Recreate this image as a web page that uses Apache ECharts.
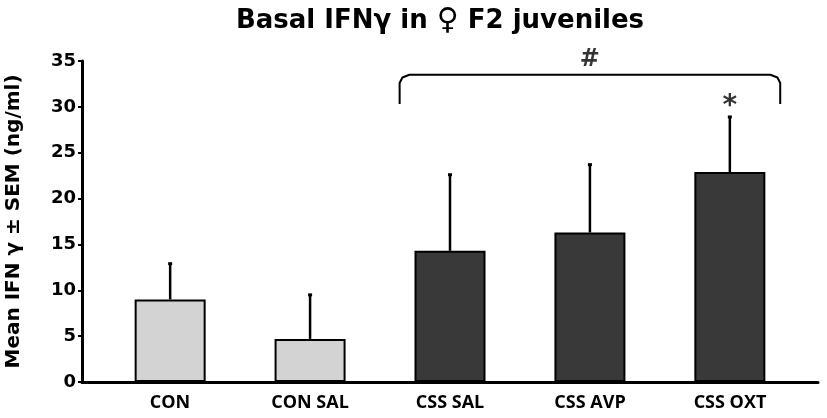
<!DOCTYPE html>
<html>
<head>
<meta charset="utf-8">
<script src="https://cdn.jsdelivr.net/npm/echarts@6/dist/echarts.min.js"></script>
<style>
  html, body { margin: 0; padding: 0; background: #fff; }
  #main { width: 827px; height: 418px; }
</style>
</head>
<body>
<div id="main"></div>
<script>
// data
var categories = ['CON', 'CON SAL', 'CSS SAL', 'CSS AVP', 'CSS OXT'];
var groups = ['CON', 'CON', 'CSS', 'CSS', 'CSS'];
var means = [9.0, 4.7, 14.3, 16.3, 22.9];
var sems = [3.9, 4.8, 8.3, 7.4, 6.0];
var yTicks = [0, 5, 10, 15, 20, 25, 30, 35];

// significance marks: bracket over the CSS groups (#), star over CSS OXT
var bracketFrom = 1.64, bracketTo = 4.36;
var bracketTop = 33.5, bracketFoot = 30.3;
var hashIndex = 3;
var starIndex = 4;

var groupColor = { CON: '#d3d3d3', CSS: '#393939' };

var chart = echarts.init(document.getElementById('main'));

var barData = means.map(function (m, i) {
  return { value: [i, m], itemStyle: { color: groupColor[groups[i]] } };
});
var errData = means.map(function (m, i) { return [i, m, sems[i]]; });

// bracket path with small rounded-ish corners
var bracketData = [
  [bracketFrom, bracketFoot],
  [bracketFrom, bracketTop - 0.9],
  [bracketFrom + 0.02, bracketTop - 0.3],
  [bracketFrom + 0.07, bracketTop],
  [bracketTo - 0.07, bracketTop],
  [bracketTo - 0.02, bracketTop - 0.3],
  [bracketTo, bracketTop - 0.9],
  [bracketTo, bracketFoot]
];

var markFont = { fontFamily: 'DejaVu Sans', fontWeight: 'bold', color: '#000' };

var option = {
  animation: false,
  title: {
    text: '{a|Basal IFNγ in }{f|♀}{a| F2 juveniles}',
    left: 435,
    textAlign: 'center',
    top: 1,
    textStyle: {
      rich: {
        a: { fontFamily: 'DejaVu Sans', fontWeight: 'bold', fontSize: 26, color: '#000' },
        f: { fontFamily: 'DejaVu Sans', fontWeight: 'bold', fontSize: 30, color: '#000' }
      }
    }
  },
  grid: [
    { left: 82, right: 9, top: 61, bottom: 36, outerBoundsMode: 'none' },
    { left: 100, right: 27, top: 61, bottom: 36, outerBoundsMode: 'none' }
  ],
  xAxis: [
    {
      type: 'value', gridIndex: 0, min: -0.63, max: 4.63,
      axisLine: { show: true, lineStyle: { color: '#000', width: 3 } },
      axisTick: { show: false }, axisLabel: { show: false }, splitLine: { show: false }
    },
    {
      type: 'category', gridIndex: 1, data: categories,
      axisLine: { show: false }, axisTick: { show: false },
      axisLabel: { margin: 12, fontFamily: 'Open Sans', fontWeight: 'bold', fontSize: 18, color: '#000' }
    }
  ],
  yAxis: [
    {
      type: 'value', gridIndex: 0, min: yTicks[0], max: yTicks[yTicks.length - 1], interval: 5,
      name: 'Mean IFN γ ± SEM (ng/ml)',
      nameLocation: 'middle', nameGap: 58,
      nameTextStyle: { fontFamily: 'DejaVu Sans', fontWeight: 'bold', fontSize: 20, color: '#000' },
      axisLine: { show: true, onZero: false, lineStyle: { color: '#000', width: 3 } },
      axisTick: { show: true, length: 4, lineStyle: { color: '#000', width: 2 } },
      axisLabel: { margin: 6, fontFamily: 'DejaVu Sans', fontWeight: 'bold', fontSize: 18, color: '#000' },
      splitLine: { show: false }
    },
    { type: 'value', gridIndex: 1, min: 0, max: 35, show: false }
  ],
  series: [
    {
      type: 'bar', xAxisIndex: 0, yAxisIndex: 0,
      data: barData, barWidth: 71,
      itemStyle: { borderColor: '#000', borderWidth: 2 }
    },
    {
      type: 'custom', xAxisIndex: 0, yAxisIndex: 0,
      data: errData, encode: { x: 0, y: 1 }, z: 1,
      renderItem: function (params, api) {
        var x = api.value(0), m = api.value(1), s = api.value(2);
        var p0 = api.coord([x, m]);
        var p1 = api.coord([x, m + s]);
        return {
          type: 'group',
          children: [
            { type: 'line', shape: { x1: p0[0], y1: p0[1], x2: p1[0], y2: p1[1] },
              style: { stroke: '#000', lineWidth: 2.5 } },
            { type: 'line', shape: { x1: p1[0] - 2, y1: p1[1], x2: p1[0] + 2, y2: p1[1] },
              style: { stroke: '#000', lineWidth: 3 } }
          ]
        };
      }
    },
    {
      type: 'line', xAxisIndex: 0, yAxisIndex: 0,
      data: bracketData, symbol: 'none', showSymbol: false,
      lineStyle: { color: '#000', width: 2 }
    },
    {
      type: 'scatter', xAxisIndex: 0, yAxisIndex: 0,
      data: [[hashIndex, bracketTop]], symbolSize: 0,
      label: Object.assign({ show: true, position: 'top', distance: 3, formatter: '#', fontSize: 24 }, markFont)
    },
    {
      type: 'scatter', xAxisIndex: 0, yAxisIndex: 0,
      data: [[starIndex, means[starIndex] + sems[starIndex]]], symbolSize: 0,
      label: Object.assign({ show: true, position: 'top', distance: -4, formatter: '*', fontSize: 28 }, markFont)
    }
  ]
};

chart.setOption(option);
</script>
</body>
</html>
